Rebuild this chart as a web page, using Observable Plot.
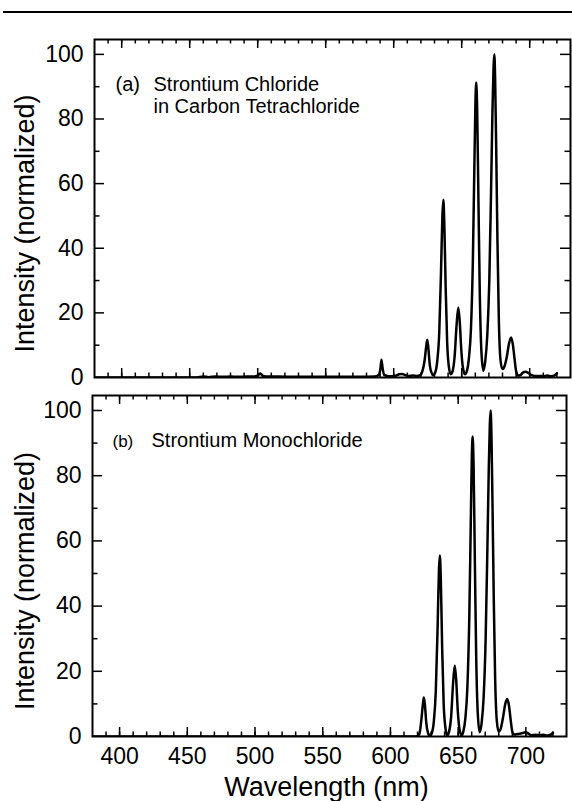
<!DOCTYPE html>
<html><head><meta charset="utf-8">
<script src="https://cdn.jsdelivr.net/npm/d3@7"></script>
<script src="https://cdn.jsdelivr.net/npm/@observablehq/plot@0.6"></script>
<style>
body{margin:0;background:#fff;}
#wrap{position:relative;width:572px;height:801px;overflow:hidden;font-family:"Liberation Sans",Arial,sans-serif;}
#rule{position:absolute;left:3px;top:11px;width:569px;height:2px;background:#000;}
#pa{position:absolute;left:0;top:0;}
#pb{position:absolute;left:0;top:390px;}
</style></head><body>
<div id="wrap"><div id="rule"></div><div id="pa"></div><div id="pb"></div></div>
<script>
// Panel (a): Strontium chloride in carbon tetrachloride
const wavelengthA = [380,455,460,464,469,474,480,486,492,497,500,502,503.5,506,515,530,545,560,575,586,589,590.3,591,591.8,593,596,599,602,604,606,608,611,614,617,619.5,621,622.8,624.0,624.7,625.5,626.5,627.8,629.1,630.5,632,633.5,634.8,635.8,636.5,637.2,638.2,639.3,640.5,641.9,643.3,644.8,646.2,647.5,648.6,649.7,650.9,652.4,653.8,655.3,656.8,658.2,659.3,660.1,660.7,661.4,662.3,663.3,664.5,665.9,667.3,668.8,670.3,671.6,672.6,673.4,674.0,674.6,675.4,676.3,677.3,678.5,679.9,681.5,683.2,684.8,686.3,687.5,688.8,690,691.5,693,695,697,699,701,704,707,710,713,716,718.5,720];
const intensityA  = [0,0,0.3,0.1,0.3,0.2,0.3,0.2,0.3,0.3,0.6,1.2,0.6,0.3,0.3,0.2,0.2,0.2,0.2,0.3,0.8,3,5.5,3,0.8,0.4,0.4,0.6,1.0,1.1,0.8,0.5,0.6,0.5,0.7,1.8,5.5,10,11.7,9,4,1.5,0.7,1.5,5,14,33,50,55,48,28,11,3.5,1,2,6.5,16,21.7,17,8.5,3,1,2,6,15,36,65,85,91.3,82,55,26,8,2.1,5,13,30,58,82,96,100,92,70,42,18,5.5,2.6,3.5,6.5,10.5,12.4,10.5,6,2,0.6,0.7,1.5,1.8,1.4,0.8,0.5,0.5,0.4,0.6,0.4,0.7,1.3];

// Panel (b): Strontium monochloride
const wavelengthB = [380,618,620,621.5,622.8,624.0,624.7,625.5,626.5,627.8,629.1,630.5,632,633.5,634.8,635.8,636.5,637.2,638.2,639.3,640.5,641.9,643.3,644.8,646.2,647.5,648.6,649.7,650.9,652.4,653.8,655.3,656.8,658.2,659.3,660.1,660.7,661.4,662.3,663.3,664.5,665.9,667.3,668.8,670.3,671.6,672.6,673.4,674.0,674.6,675.4,676.3,677.3,678.5,679.9,681.5,683.2,684.8,686.3,687.5,688.8,690,691.5,694,697,699.5,701.5,704,707,710,713,716,718.5,720];
const intensityB  = [0,0,0.1,1.0,5,10,12,9.5,4,1,0.2,1,4.5,14,33,51,55.5,48,27,10,3,0.3,1.5,6,16,21.8,17,8,2.5,0.3,1.5,5.5,15,36,65,86,92,83,55,25,7,1.3,4,12,30,58,82,96,100,92,70,42,18,5,1.5,2.5,6,10,11.5,9.5,5,1.5,0.6,0.8,1.0,1.3,1.0,0.4,0.5,0.4,0.5,0.3,0.6,1.2];

const xDomain = [380, 730];
const yDomain = [0, 104.6];
const yTickValues = [0, 20, 40, 60, 80, 100];
const yMajorTicks = [20, 40, 60, 80, 100];
const yMinorTicks = [10, 30, 50, 70, 90];
const xTickValues = [400, 450, 500, 550, 600, 650, 700];
const xMinorTicks = [390,400,410,420,430,440,450,460,470,480,490,500,510,520,530,540,550,560,570,580,590,600,610,620,630,640,650,660,670,680,690,700,710,720];
const panelTags = ["(a)", "(b)"];
const titleA = ["Strontium Chloride", "in Carbon Tetrachloride"];
const titleB = ["Strontium Monochloride"];
const xLabel = "Wavelength (nm)";
const yLabel = "Intensity (normalized)";

const FONT = "'Liberation Sans', Arial, Helvetica, sans-serif";

function panel({wl, inten, top, marginLeft, marginRight, marginTop, marginBottom, height, showX, extra}) {
  const width = 572;
  const W = width - marginLeft - marginRight;
  const H = height - marginTop - marginBottom;
  const data = wl.map((x, i) => ({x, y: inten[i]}));
  const marks = [
    Plot.line(data, {x: "x", y: "y", stroke: "#000", strokeWidth: 2.5, curve: "monotone-x", clip: true}),
    // inward ticks: left / right
    Plot.tickY(yMajorTicks, {y: d => d, insetRight: W - 10, stroke: "#000", strokeWidth: 1.5}),
    Plot.tickY(yMinorTicks, {y: d => d, insetRight: W - 5.5, stroke: "#000", strokeWidth: 1.5}),
    Plot.tickY(yMajorTicks, {y: d => d, insetLeft: W - 10, stroke: "#000", strokeWidth: 1.5}),
    Plot.tickY(yMinorTicks, {y: d => d, insetLeft: W - 5.5, stroke: "#000", strokeWidth: 1.5}),
    // inward ticks: bottom / top
    Plot.tickX(xMinorTicks, {x: d => d, insetTop: H - 4.5, stroke: "#000", strokeWidth: 1.5}),
    Plot.tickX(xTickValues, {x: d => d, insetTop: H - 9, stroke: "#000", strokeWidth: 1.5}),
    Plot.tickX(xMinorTicks, {x: d => d, insetBottom: H - 4.5, stroke: "#000", strokeWidth: 1.5}),
    Plot.tickX(xTickValues, {x: d => d, insetBottom: H - 9, stroke: "#000", strokeWidth: 1.5}),
    Plot.frame({stroke: "#000", strokeWidth: 2}),
    Plot.axisY(yTickValues, {tickSize: 0, tickPadding: 11, fontSize: 23, label: null, fill: "#000"}),
    Plot.text([yLabel], {text: d => d, frameAnchor: "left", textAnchor: "middle", lineAnchor: "middle", rotate: -90, dx: 25 - marginLeft, dy: 15, fontSize: 27, fill: "#000"}),
    ...extra(marginLeft, marginTop + top)
  ];
  if (showX) {
    marks.push(Plot.axisX(xTickValues, {tickSize: 0, tickPadding: 11, fontSize: 23, label: null, fill: "#000"}));
    marks.push(Plot.text([xLabel], {text: d => d, frameAnchor: "bottom", textAnchor: "middle", lineAnchor: "bottom", dx: -3, dy: 59, fontSize: 27, fill: "#000"}));
  }
  return Plot.plot({
    width, height, marginLeft, marginRight, marginTop, marginBottom,
    style: {fontFamily: FONT, background: "transparent", color: "#000", overflow: "visible"},
    x: {domain: xDomain, axis: showX ? undefined : null},
    y: {domain: yDomain},
    marks
  });
}

document.getElementById("pa").appendChild(panel({
  wl: wavelengthA, inten: intensityA, top: 0,
  marginLeft: 94, marginRight: 2, marginTop: 39, marginBottom: 13, height: 390, showX: false,
  extra: (ml, ft) => [
    Plot.text([panelTags[0]], {text: d => d, frameAnchor: "top-left", textAnchor: "start", lineAnchor: "bottom", dx: 115 - ml, dy: 90.5 - ft, fontSize: 20, fill: "#000"}),
    Plot.text([titleA[0]], {text: d => d, frameAnchor: "top-left", textAnchor: "start", lineAnchor: "bottom", dx: 153 - ml, dy: 90.5 - ft, fontSize: 20, fill: "#000"}),
    Plot.text([titleA[1]], {text: d => d, frameAnchor: "top-left", textAnchor: "start", lineAnchor: "bottom", dx: 153 - ml, dy: 112.7 - ft, fontSize: 20, fill: "#000"})
  ]
}));

document.getElementById("pb").appendChild(panel({
  wl: wavelengthB, inten: intensityB, top: 390,
  marginLeft: 92, marginRight: 6, marginTop: 5, marginBottom: 65, height: 411, showX: true,
  extra: (ml, ft) => [
    Plot.text([panelTags[1]], {text: d => d, frameAnchor: "top-left", textAnchor: "start", lineAnchor: "bottom", dx: 112 - ml, dy: 446.7 - ft, fontSize: 17, fill: "#000"}),
    Plot.text([titleB[0]], {text: d => d, frameAnchor: "top-left", textAnchor: "start", lineAnchor: "bottom", dx: 151 - ml, dy: 446.7 - ft, fontSize: 20, fill: "#000"})
  ]
}));
</script>
</body></html>
